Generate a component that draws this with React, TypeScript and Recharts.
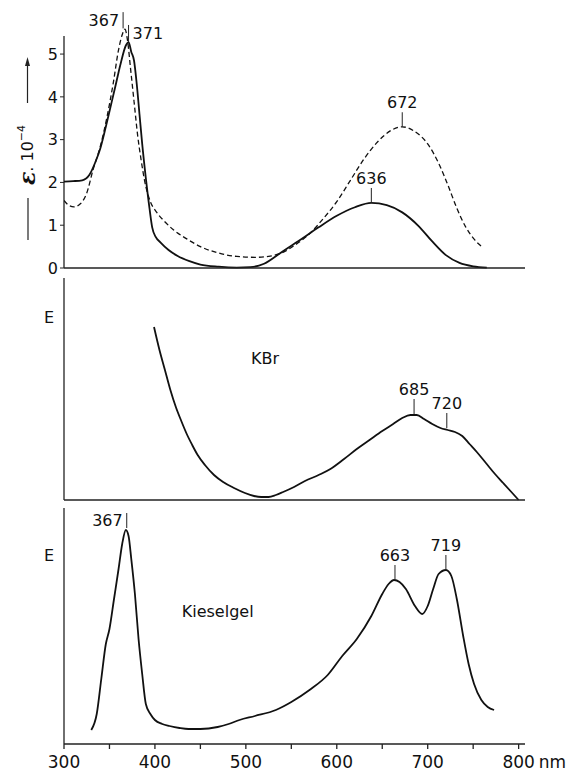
import React from "react";
import { LineChart, Line, XAxis, YAxis, ReferenceLine, ReferenceDot } from "recharts";

// Oben: Lösungsspektren (ε · 10^-4), durchgezogen und gestrichelt
const solidNm = [300, 310, 320, 328, 335, 340, 346, 351, 356, 362, 368, 371, 374, 377, 380, 383, 386, 390, 394, 397, 401, 406, 415, 425, 438, 450, 470, 490, 505, 520, 540, 560, 580, 600, 620, 638, 655, 672, 690, 705, 720, 735, 750, 765];
const solidEps = [2.02, 2.03, 2.05, 2.18, 2.5, 2.8, 3.3, 3.75, 4.2, 4.75, 5.2, 5.28, 5.05, 4.85, 4.3, 3.6, 2.9, 2.1, 1.4, 0.95, 0.72, 0.6, 0.42, 0.28, 0.16, 0.08, 0.03, 0.01, 0.02, 0.1, 0.38, 0.66, 0.95, 1.22, 1.42, 1.52, 1.47, 1.3, 0.98, 0.62, 0.3, 0.12, 0.04, 0.01];

const dashedNm = [300, 305, 311, 318, 325, 332, 340, 347, 354, 360, 364, 367, 370, 373, 377, 381, 385, 389, 395, 402, 410, 420, 435, 450, 470, 490, 510, 525, 540, 555, 570, 585, 600, 615, 630, 645, 660, 672, 685, 700, 712, 722, 732, 742, 752, 761];
const dashedEps = [1.58, 1.47, 1.43, 1.5, 1.75, 2.3, 2.85, 3.5, 4.3, 5.1, 5.45, 5.58, 5.3, 4.7, 3.9, 3.1, 2.5, 2.0, 1.55, 1.3, 1.1, 0.9, 0.68, 0.5, 0.35, 0.27, 0.25, 0.27, 0.36, 0.55, 0.8, 1.15, 1.55, 2.05, 2.55, 2.95, 3.22, 3.3, 3.2, 2.9, 2.45, 1.95, 1.4, 0.95, 0.65, 0.47];

// Mitte: KBr (E, relativ)
const kbrNm = [399, 405, 411, 417, 423, 429, 435, 441, 447, 455, 465, 475, 487, 499, 509, 517, 525, 533, 541, 553, 565, 580, 593, 608, 622, 636, 650, 662, 672, 681, 688, 696, 705, 714, 722, 730, 738, 746, 754, 764, 774, 783, 791, 800];
const kbrE = [1.73, 1.5, 1.3, 1.1, 0.93, 0.79, 0.66, 0.55, 0.45, 0.35, 0.25, 0.18, 0.12, 0.07, 0.04, 0.03, 0.03, 0.05, 0.08, 0.13, 0.19, 0.25, 0.31, 0.41, 0.51, 0.6, 0.69, 0.76, 0.82, 0.85, 0.85, 0.81, 0.76, 0.72, 0.7, 0.68, 0.64, 0.56, 0.48, 0.37, 0.26, 0.17, 0.09, 0.0];

// Unten: Kieselgel (E, relativ)
const kgNm = [330, 336, 341, 346, 350, 355, 360, 364, 368, 371, 374, 378, 382, 386, 390, 395, 400, 408, 416, 427, 437, 450, 469, 481, 493, 510, 533, 550, 570, 590, 606, 622, 638, 650, 657, 663, 669, 676, 686, 694, 700, 706, 712, 720, 726, 732, 739, 745, 751, 759, 766, 773];
const kgE = [0.14, 0.3, 0.65, 1.0, 1.15, 1.45, 1.75, 2.0, 2.14, 2.08, 1.85, 1.5, 1.05, 0.7, 0.4, 0.3, 0.24, 0.2, 0.18, 0.16, 0.15, 0.15, 0.17, 0.2, 0.24, 0.28, 0.34, 0.42, 0.54, 0.69, 0.88, 1.05, 1.28, 1.5, 1.6, 1.64, 1.62, 1.55, 1.38, 1.3, 1.38, 1.55, 1.7, 1.74, 1.68, 1.45, 1.08, 0.8, 0.6, 0.44, 0.37, 0.34];

const xTicks = [300, 350, 400, 450, 500, 550, 600, 650, 700, 750, 800];
const epsTicks = [0, 1, 2, 3, 4, 5];

// Peak-Markierungen: Lage, Strichbereich, Beschriftung
const topPeaks = [
  { nm: 365, from: 5.6, to: 5.98, text: "367", side: "left" },
  { nm: 371, from: 5.28, to: 5.68, text: "371", side: "right" },
  { nm: 638, from: 1.52, to: 1.87, text: "636", side: "top" },
  { nm: 672, from: 3.3, to: 3.64, text: "672", side: "top" },
];
const kbrPeaks = [
  { nm: 685, from: 0.86, to: 1.01, text: "685", side: "top" },
  { nm: 721, from: 0.72, to: 0.87, text: "720", side: "top" },
];
const kgPeaks = [
  { nm: 369, from: 2.16, to: 2.31, text: "367", side: "left" },
  { nm: 664, from: 1.64, to: 1.79, text: "663", side: "top" },
  { nm: 720, from: 1.74, to: 1.89, text: "719", side: "top" },
];

const toRows = (xs: number[], ys: number[]) => xs.map((nm, i) => ({ nm, v: ys[i] }));

const INK = "#111";
const AXIS = "#222";

function EpsLabel() {
  return (
    <g>
      <line x1={27.5} y1={103} x2={27.5} y2={64} stroke={AXIS} strokeWidth={1.2} />
      <path d="M27.5 57 L25 66 L30 66 Z" fill={AXIS} />
      <text
        transform="translate(27,155) rotate(-90)"
        textAnchor="middle"
        dominantBaseline="central"
        fontSize={16}
        fill={INK}
      >
        <tspan fontSize={22} fontWeight="bold" fontStyle="italic" fontFamily="DejaVu Serif">ε</tspan>
        <tspan>. 10</tspan>
        <tspan dy={-6} fontSize={11}>−4</tspan>
      </text>
      <line x1={28} y1={198} x2={28} y2={240} stroke={AXIS} strokeWidth={1.2} />
    </g>
  );
}

function BottomTick(props: any) {
  const { x, y, payload } = props;
  if (payload.value % 100 !== 0) return <g />;
  return (
    <g>
      <text x={x} y={y} dy={17} textAnchor="middle" fontSize={17} fill={INK}>
        {payload.value}
      </text>
      {payload.value === 800 && (
        <text x={x + 20} y={y} dy={17} textAnchor="start" fontSize={17} fill={INK}>
          nm
        </text>
      )}
    </g>
  );
}

function peakMarks(peaks: typeof topPeaks) {
  return peaks.map((p) => (
    <ReferenceLine
      key={p.text + p.nm}
      segment={[{ x: p.nm, y: p.from }, { x: p.nm, y: p.to }]}
      stroke={AXIS}
      strokeWidth={1}
      label={{ value: p.text, position: p.side as any, fontSize: 16, fill: INK, offset: 4 }}
    />
  ));
}

export default function App() {
  const solid = toRows(solidNm, solidEps);
  const dashed = toRows(dashedNm, dashedEps);
  const kbr = toRows(kbrNm, kbrE);
  const kg = toRows(kgNm, kgE);

  const xAxisCommon = {
    type: "number" as const,
    dataKey: "nm",
    domain: [300, 807],
    ticks: xTicks,
    interval: 0,
    stroke: AXIS,
    strokeWidth: 1.3,
    allowDataOverflow: true,
  };

  return (
    <div
      style={{
        position: "absolute",
        left: 0,
        top: 0,
        width: 571,
        height: 773,
        background: "#fff",
        fontFamily: '"DejaVu Sans", sans-serif',
      }}
    >
      {/* oben: Lösung */}
      <div style={{ position: "absolute", left: 0, top: 0 }}>
        <LineChart width={571} height={282} margin={{ top: 7, right: 46, bottom: 0, left: 0 }}>
          <XAxis {...xAxisCommon} tick={false} tickSize={3} height={14} />
          <YAxis
            type="number"
            domain={[0, 6.1]}
            ticks={epsTicks}
            interval={0}
            width={64}
            axisLine={false}
            tickSize={4}
            tickMargin={2}
            stroke={AXIS}
            tick={{ fontSize: 16, fill: INK }}
            label={() => <EpsLabel />}
          />
          <ReferenceLine segment={[{ x: 300, y: 0 }, { x: 300, y: 5.42 }]} stroke={AXIS} strokeWidth={1.3} />
          <Line data={dashed} dataKey="v" type="monotone" dot={false} stroke={INK} strokeWidth={1.3} strokeDasharray="5 3" isAnimationActive={false} />
          <Line data={solid} dataKey="v" type="monotone" dot={false} stroke={INK} strokeWidth={1.8} isAnimationActive={false} />
          {peakMarks(topPeaks)}
        </LineChart>
      </div>

      {/* Mitte: KBr */}
      <div style={{ position: "absolute", left: 0, top: 276 }}>
        <LineChart width={571} height={228} margin={{ top: 2, right: 46, bottom: 0, left: 0 }}>
          <XAxis {...xAxisCommon} tick={false} tickSize={3} height={4} />
          <YAxis
            type="number"
            domain={[0, 2.22]}
            ticks={[1.83]}
            interval={0}
            tickFormatter={() => "E"}
            width={64}
            stroke={AXIS}
            strokeWidth={1.3}
            tickLine={false}
            tickSize={6}
            tickMargin={4}
            tick={{ fontSize: 16, fill: INK }}
          />
          <Line data={kbr} dataKey="v" type="monotone" dot={false} stroke={INK} strokeWidth={1.8} isAnimationActive={false} />
          {peakMarks(kbrPeaks)}
          <ReferenceDot x={521} y={1.42} r={0} fill="none" stroke="none" label={{ value: "KBr", position: "center", fontSize: 16, fill: INK }} />
        </LineChart>
      </div>

      {/* unten: Kieselgel */}
      <div style={{ position: "absolute", left: 0, top: 504 }}>
        <LineChart width={571} height={269} margin={{ top: 4, right: 46, bottom: 0, left: 0 }}>
          <XAxis {...xAxisCommon} tick={<BottomTick />} tickSize={5} tickMargin={2} height={29} />
          <YAxis
            type="number"
            domain={[0, 2.36]}
            ticks={[1.89]}
            interval={0}
            tickFormatter={() => "E"}
            width={64}
            stroke={AXIS}
            strokeWidth={1.3}
            tickLine={false}
            tickSize={6}
            tickMargin={4}
            tick={{ fontSize: 16, fill: INK }}
          />
          <Line data={kg} dataKey="v" type="monotone" dot={false} stroke={INK} strokeWidth={1.8} isAnimationActive={false} />
          {peakMarks(kgPeaks)}
          <ReferenceDot x={469} y={1.33} r={0} fill="none" stroke="none" label={{ value: "Kieselgel", position: "center", fontSize: 16, fill: INK }} />
        </LineChart>
      </div>
    </div>
  );
}
